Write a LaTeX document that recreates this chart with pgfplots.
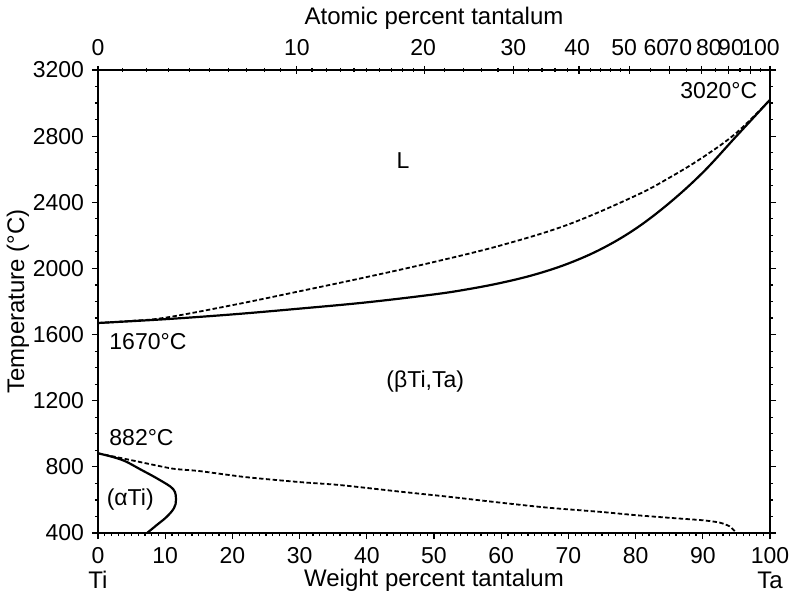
\documentclass[border=0pt]{standalone}
\usepackage{fontspec}
\setmainfont{Liberation Sans}
\usepackage{pgfplots}
\pgfplotsset{compat=1.18}
\begin{document}
\fontsize{11.5}{13}\selectfont
\begin{tikzpicture}
\path[use as bounding box] (-49pt,-34pt) rectangle (352.5pt,266.5pt);
\begin{axis}[
  at={(0,0)}, anchor=south west, scale only axis,
  width=336pt, height=231.5pt,
  xmin=0, xmax=100, ymin=400, ymax=3200,
  xtick={0,10,...,100}, ytick={400,800,...,3200},
  minor x tick num=9, minor y tick num=3,
  xtick pos=bottom, ytick pos=both, yticklabel pos=left,
  tick align=outside,
  major tick length=3pt, minor tick length=1.6pt,
  /pgf/number format/assume math mode=true,
  /pgf/number format/1000 sep={},
  tick label style={font=\fontsize{11.5}{13}\selectfont},
  axis line style={line width=0.8pt},
  every tick/.style={black, line width=0.6pt},
  xlabel={Weight percent tantalum},
  ylabel={Temperature (°C)},
  every axis x label/.style={at={(axis description cs:0.5,0)}, anchor=center, yshift=-23.5pt, font=\fontsize{12}{14}\selectfont},
  every axis y label/.style={at={(axis description cs:0,0.5)}, anchor=center, xshift=-40pt, rotate=90, font=\fontsize{12}{14}\selectfont},
  clip=false,
]
% liquidus (dashed)
\addplot[black, line width=0.9pt, dash pattern=on 2.2pt off 1.2pt, smooth, tension=0.6] coordinates {
 (0,1670) (5,1683) (10,1702) (20,1778) (30,1862) (40,1948) (50,2039) (60,2140)
 (70,2266) (80,2440) (85,2548) (90,2672) (95,2820) (100,3020)};
% solidus (solid)
\addplot[black, line width=1.1pt, smooth, tension=0.6] coordinates {
 (0,1670) (10,1693) (20,1722) (30,1757) (40,1795) (50,1843) (55,1874) (60,1913)
 (65,1963) (70,2030) (75,2120) (80,2240) (85,2395) (90,2580) (95,2800) (100,3020)};
% beta transus (dashed)
\addplot[black, line width=0.9pt, dash pattern=on 2.2pt off 1.2pt, smooth, tension=0.4] coordinates {
 (0,882) (5,840) (11,790) (15,775) (22,738) (30,708) (36,690) (45,650) (52,620)
 (60,583) (67,553) (75,527) (80,508) (85,492) (90,477) (92.5,463) (94,440) (95,400)};
% alpha solvus (solid)
\addplot[black, line width=1.1pt, smooth, tension=0.6] coordinates {
 (0,882) (2,862) (4,835) (6.3,785) (9,725) (11.2,665) (11.6,600) (11.3,550)
 (10.2,497) (8.8,450) (7.3,400)};
\node at (axis cs:45.4,2655) {L};
\node at (axis cs:48.7,1313) {(βTi,Ta)};
\node at (axis cs:4.8,600) {(αTi)};
\node[anchor=west] at (axis cs:0.5,980) {882°C};
\node[anchor=west] at (axis cs:0.5,1555) {1670°C};
\node[anchor=east] at (axis cs:99.3,3078) {3020°C};
\node at (axis description cs:0,0) [yshift=-23.5pt, font=\fontsize{12}{14}\selectfont] {Ti};
\node at (axis description cs:1,0) [yshift=-23.5pt, font=\fontsize{12}{14}\selectfont] {Ta};
% top atomic-percent tick labels (spread as in the original)
\begin{scope}[font=\fontsize{11.5}{13}\selectfont]
\node at (axis cs:0,3200) [yshift=11pt] {0};
\node at (axis cs:29.6,3200) [yshift=11pt] {10};
\node at (axis cs:48.4,3200) [yshift=11pt] {20};
\node at (axis cs:61.8,3200) [yshift=11pt] {30};
\node at (axis cs:71.3,3200) [yshift=11pt] {40};
\node at (axis cs:78.3,3200) [yshift=11pt] {50};
\node at (axis cs:83.1,3200) [yshift=11pt] {60};
\node at (axis cs:86.5,3200) [yshift=11pt] {70};
\node at (axis cs:90.9,3200) [yshift=11pt] {80};
\node at (axis cs:94.2,3200) [yshift=11pt] {90};
\node at (axis cs:98.6,3200) [yshift=11pt] {100};
\end{scope}
\end{axis}
\begin{axis}[
  at={(0,0)}, anchor=south west, scale only axis,
  width=336pt, height=231.5pt,
  xmin=0, xmax=100, ymin=400, ymax=3200,
  axis x line*=top, axis y line=none,
  xtick={0,29.58,48.59,61.83,71.59,79.08,85.01,89.82,93.80,97.14,100},
  xticklabels={},
  minor xtick={3.68,7.16,10.47,13.61,16.59,19.44,22.15,24.74,27.21,31.84,34.01,36.09,38.09,40.01,41.86,43.64,45.35,47.00,51.60,54.41,57.05,59.51,64.01,66.07,68.01,69.85,73.24,74.81,76.30,77.72,82.21,87.53,91.90,95.54,98.63},
  tick align=center,
  major tick length=4pt, minor tick length=2pt,
  axis line style={line width=0.8pt},
  every tick/.style={black, line width=0.6pt},
  xlabel={Atomic percent tantalum},
  every axis x label/.style={at={(axis description cs:0.5,1)}, anchor=center, yshift=26pt, font=\fontsize{12}{14}\selectfont},
]
\end{axis}
\end{tikzpicture}
\end{document}
